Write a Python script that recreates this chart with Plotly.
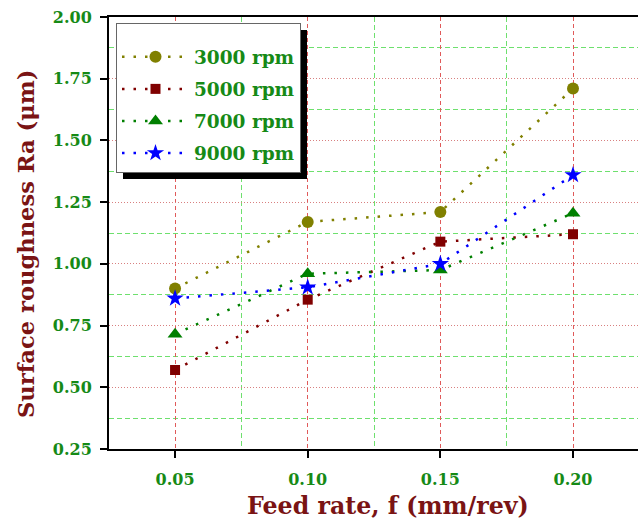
import plotly.graph_objects as go

feed = [0.05, 0.10, 0.15, 0.20]
ra_3000 = [0.90, 1.17, 1.21, 1.71]
ra_5000 = [0.57, 0.855, 1.09, 1.12]
ra_7000 = [0.715, 0.96, 0.975, 1.205]
ra_9000 = [0.86, 0.905, 1.00, 1.36]
series_names = ["3000 rpm", "5000 rpm", "7000 rpm", "9000 rpm"]
y_ticks = [0.25, 0.50, 0.75, 1.00, 1.25, 1.50, 1.75, 2.00]
x_ticks = [0.05, 0.10, 0.15, 0.20]

FONT = "DejaVu Serif"
GREEN = "#168a16"
DARKRED = "#7a1414"

# plot area in pixels (page coordinates)
L, R, T, B = 109, 638, 17, 449
W, H = R - L, B - T

def px_x(p):
    return (p - L) / W

def px_y(p):
    return (B - p) / H

styles = [
    dict(color="#808000", symbol="circle", size=12),
    dict(color="#800000", symbol="square", size=10),
    dict(color="#008000", symbol="triangle-up", size=13),
    dict(color="#0000ff", symbol="star", size=13),
]

fig = go.Figure()
for i, (name, ys, st) in enumerate(zip(series_names, [ra_3000, ra_5000, ra_7000, ra_9000], styles)):
    fig.add_trace(go.Scatter(
        x=feed, y=ys, name=name, mode="lines+markers", legendgroup=f"g{i}",
        line=dict(color=st["color"], dash="2.5px,9px", width=2.5),
        marker=dict(color=st["color"], symbol=st["symbol"], size=st["size"], line=dict(width=0)),
    ))

# legend shadow
fig.add_shape(type="rect", xref="paper", yref="paper",
              x0=px_x(123), x1=px_x(307), y0=px_y(179), y1=px_y(30),
              fillcolor="black", line=dict(width=0), layer="above")

fig.add_annotation(text="Surface roughness Ra (μm)", xref="paper", yref="paper",
                   x=px_x(26), y=px_y(244), xanchor="center", yanchor="middle",
                   textangle=-90, showarrow=False,
                   font=dict(family=FONT, size=22.6, color=DARKRED, weight="bold"))
fig.add_annotation(text="Feed rate, f (mm/rev)", xref="paper", yref="paper",
                   x=px_x(388), y=px_y(506), xanchor="center", yanchor="middle",
                   showarrow=False,
                   font=dict(family=FONT, size=23.7, color=DARKRED, weight="bold"))

fig.update_layout(
    width=638, height=526,
    margin=dict(l=L, r=638 - R, t=T, b=526 - B),
    paper_bgcolor="white", plot_bgcolor="white",
    font=dict(family=FONT, color=GREEN),
    showlegend=True,
    legend=dict(
        x=px_x(116), y=px_y(23), xanchor="left", yanchor="top",
        bgcolor="white", bordercolor="#666666", borderwidth=1,
        font=dict(family=FONT, size=18.5, color=GREEN, weight="bold"),
        title=dict(text=" ", font=dict(size=11)),
        itemwidth=67, tracegroupgap=5, traceorder="grouped",
    ),
    xaxis=dict(
        range=[0.0251, 0.2245], automargin=False,
        tickmode="array", tickvals=x_ticks, ticktext=[f"{v:.2f}" for v in x_ticks],
        ticks="outside", ticklen=7, tickwidth=2, tickcolor="black",
        ticklabelstandoff=8,
        showline=True, linecolor="black", linewidth=2, mirror=True,
        showgrid=True, gridcolor="#e05a5a", griddash="4px,3px", gridwidth=1,
        minor=dict(tickmode="array", tickvals=[0.075, 0.125, 0.175], showgrid=True,
                   gridcolor="#6ee06e", griddash="5px,3px", gridwidth=1, ticks=""),
        tickfont=dict(family=FONT, size=16, color=GREEN, weight="bold"),
        zeroline=False,
    ),
    yaxis=dict(
        range=[0.25, 2.0], automargin=False,
        tickmode="array", tickvals=y_ticks, ticktext=[f"{v:.2f}" for v in y_ticks],
        ticks="outside", ticklen=7, tickwidth=2, tickcolor="black",
        ticklabelstandoff=5,
        showline=True, linecolor="black", linewidth=2,
        showgrid=True, gridcolor="#d88080", griddash="1px,2px", gridwidth=1,
        minor=dict(tickmode="array", tickvals=[0.375, 0.625, 0.875, 1.125, 1.375, 1.625, 1.875],
                   showgrid=True, gridcolor="#6ee06e", griddash="5px,3px", gridwidth=1, ticks=""),
        tickfont=dict(family=FONT, size=16, color=GREEN, weight="bold"),
        zeroline=False,
    ),
)

fig.write_html("out.html", config={"displayModeBar": False},
               post_script="document.body.style.margin='0';")
